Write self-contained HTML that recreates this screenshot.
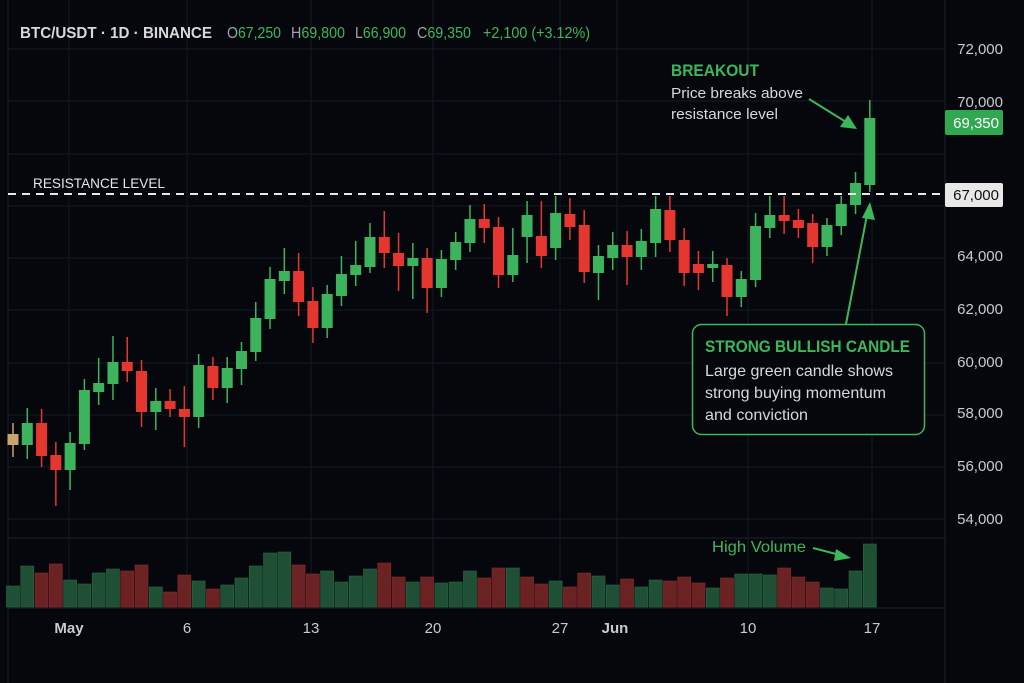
<!DOCTYPE html>
<html><head><meta charset="utf-8"><style>
html,body{margin:0;padding:0;background:#05070d;}
svg{display:block;font-family:"Liberation Sans",sans-serif;}
</style></head><body>
<svg id="s" width="1024" height="683" viewBox="0 0 1024 683" xmlns="http://www.w3.org/2000/svg">
<rect width="1024" height="683" fill="#05070d"/>
<g id="grid" stroke="#141821" stroke-width="1"></g>
<line x1="8" y1="0" x2="8" y2="683" stroke="#1c2029"/>
<line x1="945" y1="0" x2="945" y2="683" stroke="#1c2029"/>
<line x1="8" y1="538" x2="945" y2="538" stroke="#1c2029"/>
<line x1="8" y1="608" x2="945" y2="608" stroke="#1c2029"/>
<g id="vol"></g>
<g id="cdl"></g>
<line x1="8" y1="194" x2="945" y2="194" stroke="#e8e8e8" stroke-width="2" stroke-dasharray="8,6"/>
<text x="33" y="188" fill="#e6e6e6" font-size="14" textLength="132" lengthAdjust="spacingAndGlyphs">RESISTANCE LEVEL</text>
<g font-size="15" text-anchor="end" fill="#c8cbd0" id="ax"></g>
<rect x="945" y="110" width="58" height="25" rx="2" fill="#2fa84f"/>
<text x="999" y="128" font-size="15" fill="#fff" text-anchor="end">69,350</text>
<rect x="945" y="183" width="58" height="24" rx="2" fill="#e8e8e8"/>
<text x="999" y="200" font-size="15" fill="#111" text-anchor="end">67,000</text>
<g font-size="15" fill="#c8cbd0" text-anchor="middle">
<text x="69" y="633" font-weight="bold">May</text><text x="187" y="633">6</text><text x="311" y="633">13</text><text x="433" y="633">20</text><text x="560" y="633">27</text><text x="615" y="633" font-weight="bold">Jun</text><text x="748" y="633">10</text><text x="872" y="633">17</text>
</g>
<text x="20" y="38" font-size="16" font-weight="bold" fill="#d8d8d8" textLength="192" lengthAdjust="spacingAndGlyphs">BTC/USDT · 1D · BINANCE</text>
<g font-size="16" fill="#a0a4aa">
<text x="227" y="38" textLength="54" lengthAdjust="spacingAndGlyphs">O<tspan fill="#3cb85a">67,250</tspan></text>
<text x="291" y="38" textLength="54" lengthAdjust="spacingAndGlyphs">H<tspan fill="#3cb85a">69,800</tspan></text>
<text x="355" y="38" textLength="51" lengthAdjust="spacingAndGlyphs">L<tspan fill="#3cb85a">66,900</tspan></text>
<text x="417" y="38" textLength="54" lengthAdjust="spacingAndGlyphs">C<tspan fill="#3cb85a">69,350</tspan></text>
<text x="483" y="38" fill="#3cb85a" textLength="107" lengthAdjust="spacingAndGlyphs">+2,100 (+3.12%)</text>
</g>
<text x="671" y="76" font-size="17" font-weight="bold" fill="#3cb85a" textLength="88" lengthAdjust="spacingAndGlyphs">BREAKOUT</text>
<text x="671" y="98" font-size="15" fill="#d8d8d8" textLength="132" lengthAdjust="spacingAndGlyphs">Price breaks above</text>
<text x="671" y="119" font-size="15" fill="#d8d8d8" textLength="107" lengthAdjust="spacingAndGlyphs">resistance level</text>
<line x1="809" y1="99" x2="846" y2="122" stroke="#3cb85a" stroke-width="2"/>
<polygon points="857,129 840,127 848,115" fill="#3cb85a"/>
<line x1="846" y1="324" x2="867" y2="215" stroke="#3cb85a" stroke-width="2"/>
<polygon points="870,202 862,218 875,220" fill="#3cb85a"/>
<rect x="692.5" y="324.5" width="232" height="110" rx="9" fill="#05070d" stroke="#3cb85a" stroke-width="1.5"/>
<text x="705" y="352" font-size="17" font-weight="bold" fill="#3cb85a" textLength="205" lengthAdjust="spacingAndGlyphs">STRONG BULLISH CANDLE</text>
<text x="705" y="376" font-size="16" fill="#d8d8d8" textLength="188" lengthAdjust="spacingAndGlyphs">Large green candle shows</text>
<text x="705" y="398" font-size="16" fill="#d8d8d8" textLength="181" lengthAdjust="spacingAndGlyphs">strong buying momentum</text>
<text x="705" y="420" font-size="16" fill="#d8d8d8" textLength="103" lengthAdjust="spacingAndGlyphs">and conviction</text>
<text x="712" y="552" font-size="16" fill="#3cb85a" textLength="94" lengthAdjust="spacingAndGlyphs">High Volume</text>
<line x1="813" y1="548" x2="840" y2="555" stroke="#3cb85a" stroke-width="2"/>
<polygon points="851,558 836,549 834,561" fill="#3cb85a"/>
</svg>
<script>
var NS="http://www.w3.org/2000/svg";
function el(p,t,a){var e=document.createElementNS(NS,t);for(var k in a)e.setAttribute(k,a[k]);p.appendChild(e);return e;}
var g=document.getElementById('grid');
[49,101,154,206,258,310,363,415,467,519].forEach(function(y){el(g,'line',{x1:8,y1:y,x2:945,y2:y});});
[69,187,311,433,560,617,748,872].forEach(function(x){el(g,'line',{x1:x,y1:0,x2:x,y2:608});});
var ax=document.getElementById('ax');
[[49,'72,000'],[102,'70,000'],[256,'64,000'],[309,'62,000'],[362,'60,000'],[413,'58,000'],[466,'56,000'],[519,'54,000']].forEach(function(a){var t=el(ax,'text',{x:1003,y:a[0]+5});t.textContent=a[1];});
var C=[
['t',434,445,423,457],['g',423,445,408,459],['r',423,456,409,467],['r',455,470,442,506],['g',443,470,432,490],
['g',390,444,379,450],['g',383,392,358,405],['g',362,384,336,400],['r',362,371,337,382],['r',371,412,360,427],
['g',401,412,388,430],['r',401,409,389,417],['r',409,417,386,447],['g',365,417,354,428],['r',366,388,357,400],
['g',368,388,357,403],['g',351,369,342,385],['g',318,352,302,361],['g',279,319,267,329],['g',271,281,248,294],
['r',271,302,253,316],['r',301,328,287,343],['g',294,328,285,338],['g',274,296,256,306],['g',265,275,241,286],
['g',237,267,223,273],['r',237,253,211,268],['r',253,266,233,291],['g',258,266,243,299],['r',258,288,248,313],
['g',259,288,250,297],['g',242,260,232,270],['g',219,243,205,252],['r',219,228,204,243],['r',227,275,217,288],
['g',255,275,228,282],['g',215,237,201,263],['r',236,256,201,268],['g',213,248,196,260],['r',214,227,198,240],
['r',225,272,210,283],['g',256,273,245,300],['g',245,258,232,270],['r',245,257,231,285],['g',241,257,229,270],
['g',209,243,196,257],['r',210,240,196,252],['r',240,273,228,286],['r',264,273,251,290],['g',264,268,251,282],
['r',265,297,258,316],['g',279,297,271,307],['g',226,280,213,287],['g',215,228,196,238],['r',215,221,196,234],
['r',220,228,209,238],['r',223,247,214,263],['g',225,247,218,256],['g',204,226,196,235],['g',183,205,172,214],
['g',118,185,100,192]];
var col={g:'#3cb35c',r:'#e5372f',t:'#c9a46b'};
var cg=document.getElementById('cdl');
C.forEach(function(c,i){var x=13+i*14.28;var f=col[c[0]];
el(cg,'line',{x1:x,y1:c[3],x2:x,y2:c[4],stroke:f,'stroke-width':1.5});
el(cg,'rect',{x:x-5.5,y:c[1],width:11,height:Math.max(2,c[2]-c[1]),fill:f});});
var V=[[586,'g'],[566,'g'],[573,'r'],[564,'r'],[580,'g'],[584,'g'],[573,'g'],[569,'g'],[571,'r'],[565,'r'],
[587,'g'],[592,'r'],[575,'r'],[581,'g'],[589,'r'],[585,'g'],[578,'g'],[566,'g'],[553,'g'],[552,'g'],
[565,'r'],[574,'r'],[571,'g'],[582,'g'],[576,'g'],[569,'g'],[563,'r'],[577,'r'],[582,'g'],[577,'r'],
[583,'g'],[582,'g'],[571,'g'],[578,'r'],[568,'r'],[568,'g'],[577,'r'],[584,'r'],[581,'g'],[587,'r'],
[573,'r'],[576,'g'],[585,'g'],[579,'r'],[587,'g'],[580,'g'],[581,'r'],[577,'r'],[583,'r'],[588,'g'],
[578,'r'],[574,'g'],[574,'g'],[575,'g'],[568,'r'],[577,'r'],[582,'r'],[588,'g'],[589,'g'],[571,'g'],[544,'g']];
var vc={g:'#1f4f35',r:'#6a2222'};var vs={g:'#2a6a44',r:'#8a2b2b'};
var vg=document.getElementById('vol');
V.forEach(function(v,i){var x=13+i*14.28;el(vg,'rect',{x:x-6.5,y:v[0],width:13,height:607-v[0],fill:vc[v[1]],stroke:vs[v[1]],'stroke-width':0.6});});
</script>
</body></html>
